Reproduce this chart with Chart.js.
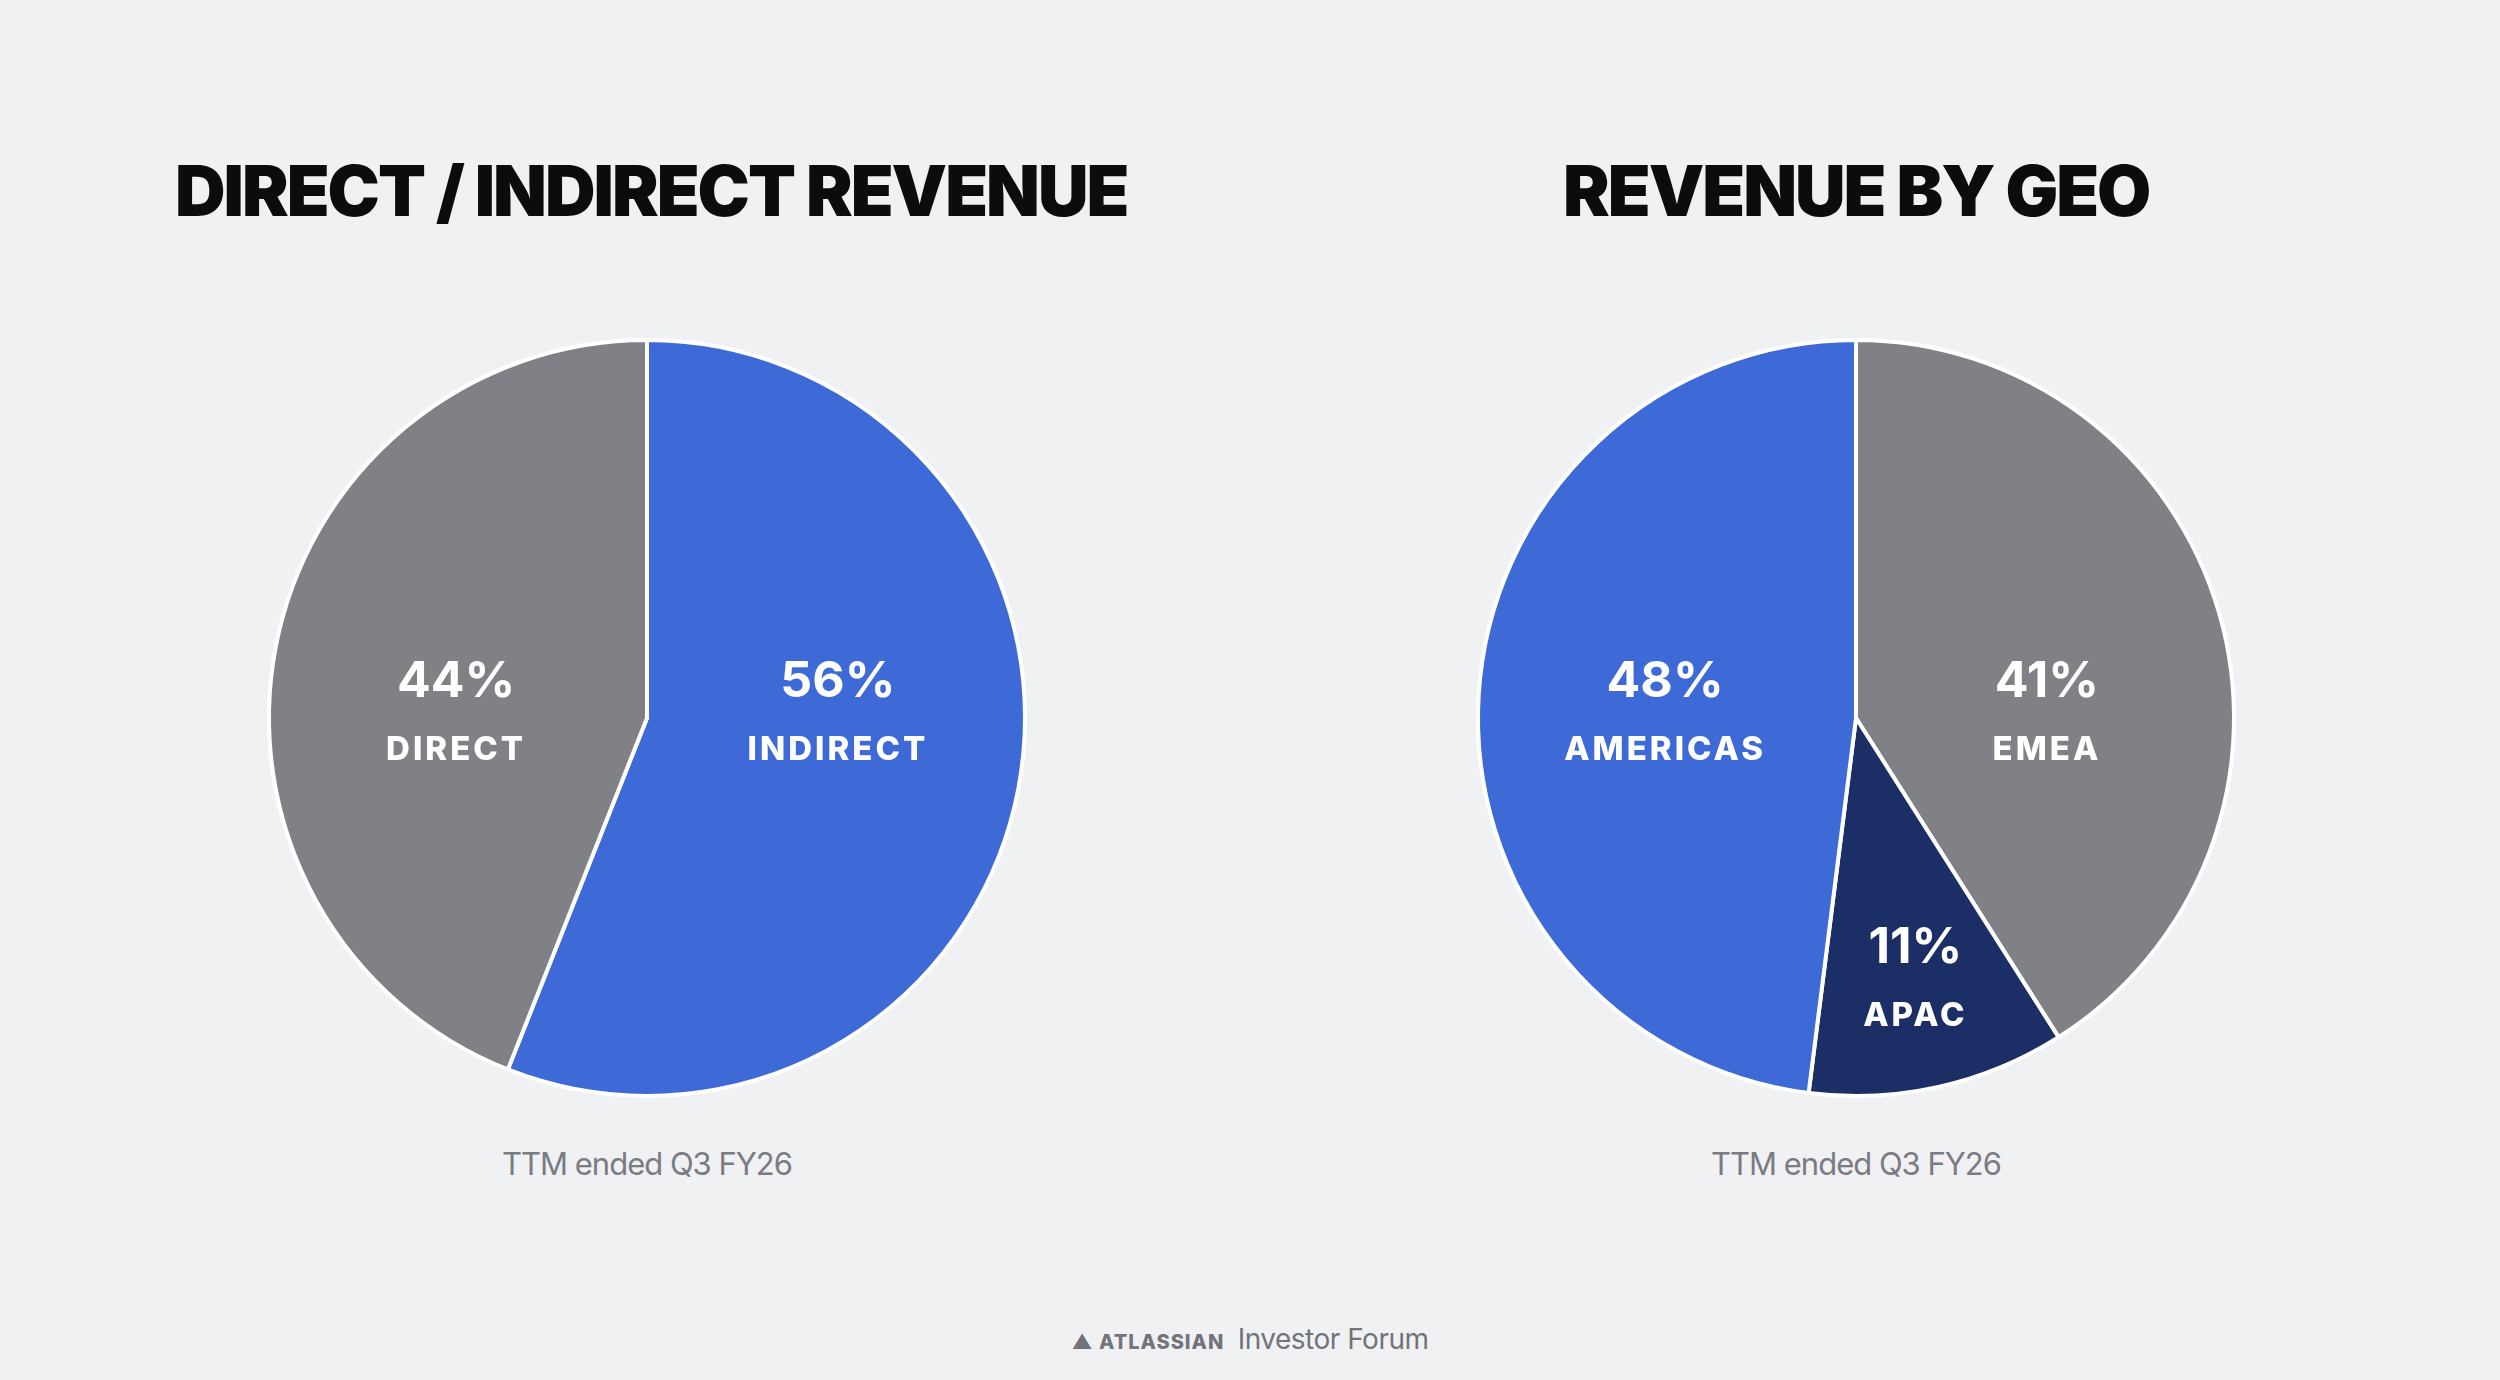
<!DOCTYPE html>
<html>
<head>
<meta charset="utf-8">
<script src="https://cdn.jsdelivr.net/npm/chart.js@4"></script>
<style>
  html, body { margin: 0; padding: 0; background: #F0F1F3; }
  body { width: 2500px; height: 1380px; position: relative; overflow: hidden; font-family: Inter, "Noto Sans", sans-serif; }
  .title { position: absolute; top: 148px; font-weight: 900; font-size: 70px; letter-spacing: -2px; color: #0B0C0E; }
  .box { position: absolute; width: 800px; height: 800px; }
  .caption { position: absolute; top: 1145px; width: 600px; text-align: center; font-size: 31px; color: #7A7C83; letter-spacing: -1px; }
  .footer { position: absolute; top: 1322px; left: 0; width: 2500px; text-align: center; font-size: 28px; color: #72747C; letter-spacing: -0.5px; }
  .footer b { font-size: 20px; letter-spacing: 1px; font-weight: 800; margin-right: 6px; }
</style>
</head>
<body>
<div class="title" style="left:175px">DIRECT / INDIRECT REVENUE</div>
<div class="title" style="left:1563px">REVENUE BY GEO</div>
<div class="box" style="left:247px; top:318px"><canvas id="channelChart" width="800" height="800"></canvas></div>
<div class="box" style="left:1456px; top:318px"><canvas id="geoChart" width="800" height="800"></canvas></div>
<div class="caption" style="left:347px">TTM ended Q3 FY26</div>
<div class="caption" style="left:1556px">TTM ended Q3 FY26</div>
<div class="footer"><b>&#9650; ATLASSIAN</b> Investor Forum</div>
<script>
// Canal de vendas
const channelLabels = ['INDIRECT', 'DIRECT'];
const channelValues = [56, 44];
const channelColors = ['#3D6AD6', '#808187'];

// Receita por região
const geoLabels = ['EMEA', 'APAC', 'AMERICAS'];
const geoValues = [41, 11, 48];
const geoColors = ['#808187', '#1B2F66', '#3D6AD6'];
const geoLabelRadius = [null, 0.72, null];

const sliceLabels = {
    id: 'sliceLabels',
    afterDatasetsDraw(chart, args, opts) {
        const ctx = chart.ctx;
        const meta = chart.getDatasetMeta(0);
        const ds = chart.data.datasets[0];
        meta.data.forEach((arc, i) => {
            const p = arc.getProps(['startAngle', 'endAngle', 'outerRadius', 'x', 'y']);
            const mid = (p.startAngle + p.endAngle) / 2;
            const f = opts.radius && opts.radius[i];
            let x, y;
            if (f) {
                x = p.x + Math.cos(mid) * p.outerRadius * f;
                y = p.y + Math.sin(mid) * p.outerRadius * f;
            } else {
                // rótulos grandes ficam na altura do centro
                x = p.x + Math.sign(Math.cos(mid)) * p.outerRadius * 0.505;
                y = p.y;
            }
            ctx.save();
            ctx.fillStyle = '#FFFFFF';
            ctx.textAlign = 'center';
            ctx.textBaseline = 'middle';
            ctx.font = '700 50px Inter, "Noto Sans", sans-serif';
            ctx.fillText(ds.data[i] + '%', x, y - 36);
            ctx.font = '800 33px Inter, "Noto Sans", sans-serif';
            ctx.letterSpacing = '3px';
            ctx.fillText(chart.data.labels[i], x, y + 32);
            ctx.restore();
        });
    }
};

function makePie(id, labels, values, colors, radius) {
    return new Chart(document.getElementById(id), {
        type: 'pie',
        data: {
            labels: labels,
            datasets: [{
                data: values,
                backgroundColor: colors,
                borderColor: '#FFFFFF',
                borderWidth: 4
            }]
        },
        options: {
            responsive: false,
            animation: false,
            layout: { padding: 20 },
            plugins: {
                legend: { display: false },
                tooltip: { enabled: false },
                sliceLabels: { radius: radius }
            }
        },
        plugins: [sliceLabels]
    });
}

makePie('channelChart', channelLabels, channelValues, channelColors, null);
makePie('geoChart', geoLabels, geoValues, geoColors, geoLabelRadius);
</script>
</body>
</html>
